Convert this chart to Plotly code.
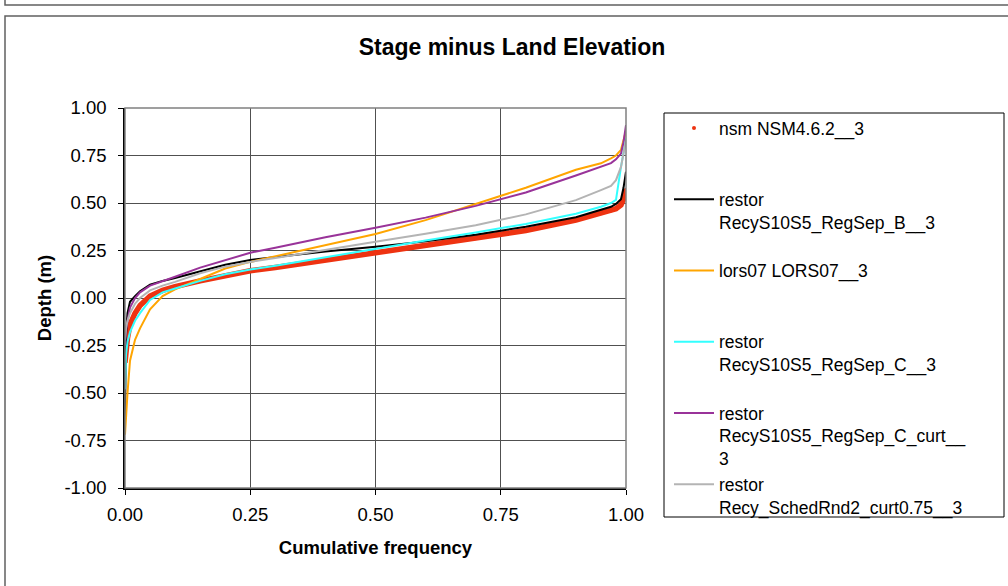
import plotly.graph_objects as go

# Cumulative frequency (shared x for all series)
freq = [0, 0.002, 0.005, 0.01, 0.02, 0.03, 0.05, 0.075, 0.1, 0.15, 0.2, 0.25, 0.3,
        0.4, 0.5, 0.6, 0.7, 0.8, 0.9, 0.95, 0.97, 0.98, 0.99, 0.995, 1.0]

nsm = [-0.34, -0.28, -0.21, -0.14, -0.08, -0.04, 0.01, 0.04, 0.06, 0.09, 0.12, 0.143, 0.16,
       0.20, 0.238, 0.278, 0.315, 0.355, 0.41, 0.446, 0.46, 0.47, 0.49, 0.52, 0.57]
restor_b = [-0.63, -0.20, -0.08, -0.02, 0.01, 0.035, 0.07, 0.09, 0.105, 0.14, 0.175, 0.20, 0.215,
            0.245, 0.27, 0.298, 0.333, 0.375, 0.425, 0.463, 0.48, 0.495, 0.52, 0.58, 0.665]
lors07 = [-0.72, -0.62, -0.50, -0.33, -0.22, -0.16, -0.06, 0.01, 0.045, 0.10, 0.155, 0.19, 0.22,
          0.28, 0.337, 0.41, 0.497, 0.58, 0.675, 0.709, 0.735, 0.75, 0.78, 0.83, 0.88]
restor_c = [-0.48, -0.30, -0.23, -0.18, -0.12, -0.08, -0.01, 0.03, 0.05, 0.09, 0.125, 0.15, 0.17,
            0.215, 0.262, 0.303, 0.345, 0.39, 0.443, 0.48, 0.50, 0.516, 0.69, 0.77, 0.84]
restor_c_curt = [-0.25, -0.17, -0.12, -0.05, 0.0, 0.03, 0.065, 0.09, 0.112, 0.16, 0.20, 0.238, 0.265,
                 0.32, 0.37, 0.423, 0.485, 0.555, 0.645, 0.691, 0.71, 0.73, 0.76, 0.82, 0.91]
restor_sched = [-0.22, -0.16, -0.12, -0.08, -0.03, 0.0, 0.04, 0.065, 0.085, 0.13, 0.165, 0.19, 0.21,
                0.255, 0.296, 0.338, 0.383, 0.44, 0.515, 0.568, 0.59, 0.62, 0.69, 0.76, 0.83]

series_names = [
    "nsm NSM4.6.2__3",
    "restor<br>RecyS10S5_RegSep_B__3",
    "lors07 LORS07__3",
    "restor<br>RecyS10S5_RegSep_C__3",
    "restor<br>RecyS10S5_RegSep_C_curt__<br>3",
    "restor<br>Recy_SchedRnd2_curt0.75__3",
]
series_colors = ["#EE3311", "#000000", "#FFA500", "#33FFFF", "#993399", "#B4B4B4"]

y_tickvals = [-1.0, -0.75, -0.5, -0.25, 0.0, 0.25, 0.5, 0.75, 1.0]
y_ticktext = ["-1.00", "-0.75", "-0.50", "-0.25", "0.00", "0.25", "0.50", "0.75", "1.00"]
x_tickvals = [0.0, 0.25, 0.5, 0.75, 1.0]
x_ticktext = ["0.00", "0.25", "0.50", "0.75", "1.00"]

FONT = "Arial, Liberation Sans, sans-serif"


def pad(name, lines=3):
    n = name.count("<br>") + 1
    return name + "<br> " * (lines - n)


fig = go.Figure()

# red series drawn as a thick band of markers (line underneath, markers for the legend)
fig.add_trace(go.Scatter(x=freq, y=nsm, mode="lines", line=dict(color=series_colors[0], width=5.5),
                         showlegend=False, hoverinfo="skip"))
fig.add_trace(go.Scatter(x=freq, y=nsm, mode="markers", name=pad(series_names[0]),
                         marker=dict(color=series_colors[0], size=4)))

others = [restor_b, lors07, restor_c, restor_c_curt, restor_sched]
for vals, name, col in zip(others, series_names[1:], series_colors[1:]):
    fig.add_trace(go.Scatter(x=freq, y=vals, mode="lines", name=pad(name),
                             line=dict(color=col, width=2)))

W, H = 1008, 586
L, R, T, B = 125, 626, 108, 488


def px(xp):
    return (xp - L) / (R - L)


def py(yp):
    return (B - yp) / (B - T)


shapes = [
    # outer chart frame
    dict(type="rect", xref="paper", yref="paper", x0=px(5), x1=px(1012), y0=py(16), y1=py(600),
         line=dict(color="#606060", width=1.5), layer="below"),
    # previous frame bottom edge at the top
    dict(type="rect", xref="paper", yref="paper", x0=px(5), x1=px(1012), y0=py(5), y1=py(-20),
         line=dict(color="#606060", width=1.5), layer="below"),
    # plot area border (top / right) in gray
    dict(type="rect", xref="paper", yref="paper", x0=0, x1=1, y0=0, y1=1,
         line=dict(color="#808080", width=1.5)),
    # legend box
    dict(type="rect", xref="paper", yref="paper", x0=px(664), x1=px(1004), y0=py(113), y1=py(517),
         line=dict(color="#000000", width=1)),
]

fig.update_layout(
    width=W, height=H,
    margin=dict(l=L, r=W - R, t=T, b=H - B, autoexpand=False),
    paper_bgcolor="white", plot_bgcolor="white",
    font=dict(family=FONT, color="black", size=18),
    title=dict(text="<b>Stage minus Land Elevation</b>", x=512 / W, xanchor="center",
               y=1 - 47 / H, yanchor="middle", yref="container",
               font=dict(family=FONT, size=23, color="black")),
    xaxis=dict(range=[0, 1], tickvals=x_tickvals, ticktext=x_ticktext,
               showgrid=True, gridcolor="#505050", gridwidth=1.2,
               showline=True, linecolor="black", linewidth=1.5,
               ticks="outside", ticklen=5, tickcolor="black", ticklabelstandoff=4,
               tickfont=dict(size=18.5),
               title=dict(text="<b>Cumulative frequency</b>", font=dict(size=18.5), standoff=17),
               zeroline=False),
    yaxis=dict(range=[-1, 1], tickvals=y_tickvals, ticktext=y_ticktext,
               showgrid=True, gridcolor="#505050", gridwidth=1.2,
               showline=True, linecolor="black", linewidth=1.5,
               ticks="outside", ticklen=5, tickcolor="black", ticklabelstandoff=8,
               tickfont=dict(size=18.5),
               title=dict(text="<b>Depth (m)</b>", font=dict(size=18.5), standoff=8),
               zeroline=False),
    legend=dict(x=px(669), y=py(110), xanchor="left", yanchor="top",
                bgcolor="rgba(0,0,0,0)", borderwidth=0, valign="top",
                font=dict(family=FONT, size=17.5, color="black"),
                tracegroupgap=0, itemclick=False, itemwidth=40, maxheight=560),
    shapes=shapes,
    showlegend=True,
)

fig.write_html("out.html", config={"displayModeBar": False},
               post_script="document.body.style.margin='0';document.body.style.overflow='hidden';")
